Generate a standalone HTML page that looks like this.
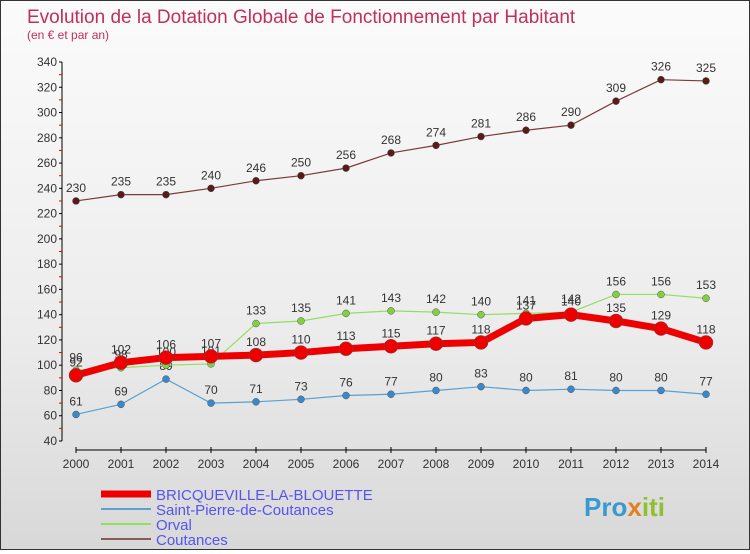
<!DOCTYPE html>
<html><head><meta charset="utf-8"><style>
body{margin:0;width:750px;height:550px;overflow:hidden;font-family:"Liberation Sans",sans-serif}
#wrap{position:relative;width:748px;height:548px;border:1px solid #333;background:linear-gradient(#fbfbfb,#ececec 60%,#d8d8d8)}
</style></head><body>
<div id="wrap">
<svg id="c" width="748" height="548"></svg>
</div>
<script>
const years=[2000,2001,2002,2003,2004,2005,2006,2007,2008,2009,2010,2011,2012,2013,2014];
const bric=[92,102,106,107,108,110,113,115,117,118,137,140,135,129,118];
const stp=[61,69,89,70,71,73,76,77,80,83,80,81,80,80,77];
const orval=[96,98,100,101,133,135,141,143,142,140,141,142,156,156,153];
const cout=[230,235,235,240,246,250,256,268,274,281,286,290,309,326,325];
const yTicks=[40,60,80,100,120,140,160,180,200,220,240,260,280,300,320,340];
const NS='http://www.w3.org/2000/svg';
const svg=document.getElementById('c');
function X(i){return 75+i*45;}
function Y(v){return 440-(v-40)*379/300;}
function mk(t,a,p){const e=document.createElementNS(NS,t);for(const k in a)e.setAttribute(k,a[k]);(p||svg).appendChild(e);return e;}
let t=mk('text',{x:26,y:22,fill:'#c0305a','font-size':19});t.textContent='Evolution de la Dotation Globale de Fonctionnement par Habitant';


t=mk('text',{x:26,y:38,fill:'#c0305a','font-size':12});t.textContent='(en € et par an)';


let ax=mk('line',{x1:61,y1:Y(340),x2:61,y2:Y(40),stroke:'#000'});


ax=mk('line',{x1:X(0),y1:449,x2:X(14),y2:449,stroke:'#000'});


yTicks.forEach(v=>{mk('line',{x1:58,x2:61,y1:Y(v),y2:Y(v),stroke:'#000'});
 if(v<340)mk('line',{x1:58,x2:61,y1:Y(v+10),y2:Y(v+10),stroke:'#e00'});
 const l=mk('text',{x:56,y:Y(v)+4,'text-anchor':'end','font-size':12,fill:'#333'});l.textContent=v;
 
 });
years.forEach((y,i)=>{mk('line',{x1:X(i),x2:X(i),y1:446,y2:452,stroke:'#000'});
 const l=mk('text',{x:X(i),y:467,'text-anchor':'middle','font-size':12,fill:'#333'});l.textContent=y;
 
 });
function series(data,color,w,r,name,dot){
 const g=mk('g',{});
 
 
 mk('polyline',{points:data.map((v,i)=>X(i)+','+Y(v)).join(' '),fill:'none',stroke:color,'stroke-width':w},g);
 data.forEach((v,i)=>{const c=mk('circle',{cx:X(i),cy:Y(v),r:r,fill:dot,stroke:'#555','stroke-width':0.5},g);
  
  
  const l=mk('text',{x:X(i),y:Y(v)-9,'text-anchor':'middle','font-size':12,fill:'#333'},g);l.textContent=v;
  
  });
}
series(cout,'#7a3a3a',1.2,3.5,'coutances','#5a1a1a');
series(stp,'#5aa0d0',1.2,3.5,'saint-pierre','#3a88c8');
series(orval,'#90e060',1.2,3.5,'orval','#80d040');
series(bric,'#ee0000',7,7,'bricqueville','#ee0000');
const leg=[['BRICQUEVILLE-LA-BLOUETTE','#ee0000',7],['Saint-Pierre-de-Coutances','#5aa0d0',2],['Orval','#90e060',2],['Coutances','#8a5a5a',2]];
leg.forEach((l,i)=>{const y=493+i*15;
 const g=mk('g',{});
 
 
 mk('line',{x1:100,x2:150,y1:y,y2:y,stroke:l[1],'stroke-width':l[2]},g);
 const t=mk('text',{x:155,y:y+6,'font-size':15,fill:'#5555ee'},g);t.textContent=l[0];});
t=mk('text',{x:583,y:515,'font-size':26,'font-weight':'bold',fill:'#3a9ad0'});
t.innerHTML='Pro<tspan fill="#e08020">x</tspan><tspan fill="#90c030">iti</tspan>';


</script>
</body></html>
